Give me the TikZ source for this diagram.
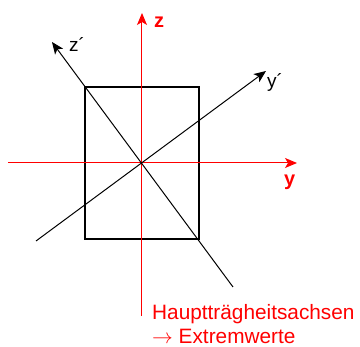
\documentclass[tikz,border=0pt]{standalone}
\usepackage{fontspec}
\setmainfont{Liberation Sans}
\usetikzlibrary{arrows.meta}
\begin{document}
\begin{tikzpicture}[x=1pt,y=-1pt,
  redaxis/.style={draw=red,line width=1pt,-{Stealth[length=12pt,width=10pt,inset=3pt]}},
  blackaxis/.style={draw=black,line width=1pt,-{Stealth[length=12pt,width=10pt,inset=3pt]}},
  redlabel/.style={text=red,font=\fontsize{20}{24}\selectfont\bfseries,inner sep=0pt,anchor=base west},
  blacklabel/.style={text=black,font=\fontsize{19}{23}\selectfont,inner sep=0pt,anchor=base west},
  note/.style={text=red,font=\fontsize{20.8}{25}\selectfont,inner sep=0pt,anchor=base west}]
\useasboundingbox (0,0) rectangle (360,347);
\coordinate (O) at (142,163);
\node[draw=black,line width=2pt,minimum width=114pt,minimum height=152pt,inner sep=0pt] (rect) at (O) {};
% red axes
\coordinate (yl) at (8,163);
\coordinate (yr) at (297,163);
\coordinate (zb) at (142,316);
\coordinate (zt) at (142,13);
\draw[redaxis] (yl) -- (yr);
\draw[redaxis] (zb) -- (zt);
% principal axes
\coordinate (zpb) at (233,287);
\coordinate (zpt) at (52,42);
\coordinate (ypb) at (36,241);
\coordinate (ypt) at (266,71);
\draw[blackaxis] (zpb) -- (zpt);
\draw[blackaxis] (ypb) -- (ypt);
% labels
\node[redlabel] (zlab) at (154,28) {z};
\node[redlabel] (ylab) at (284,186) {y};
\node[blacklabel] (zplab) at (69,52) {z´};
\node[blacklabel] (yplab) at (267,88) {y´};
\node[note] (n1) at (152,320) {Hauptträgheitsachsen};
\node[note] (n2) at (152,344) {$\rightarrow$ Extremwerte};
\end{tikzpicture}
\end{document}
